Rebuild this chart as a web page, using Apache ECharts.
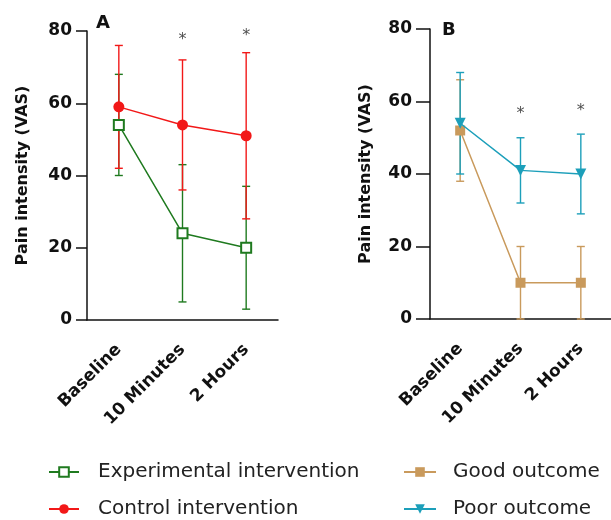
<!DOCTYPE html>
<html><head><meta charset="utf-8">
<script src="https://cdn.jsdelivr.net/npm/echarts@6/dist/echarts.min.js"></script>
<style>html,body{margin:0;padding:0;background:#fff}#c{width:611px;height:520px}</style>
</head><body><div id="c"></div>
<script>
// ---- data ----
const categories = ['Baseline', '10 Minutes', '2 Hours'];
const yMin = 0, yMax = 80, yStep = 20;

// Panel A
const expMean = [54, 24, 20];
const expLow  = [40, 5, 3];
const expHigh = [68, 43, 37];
const ctrlMean = [59, 54, 51];
const ctrlLow  = [42, 36, 28];
const ctrlHigh = [76, 72, 74];
const sigA = [null, 78.6, 79.7];

// Panel B
const goodMean = [52, 10, 10];
const goodLow  = [38, 0, 0];
const goodHigh = [66, 20, 20];
const poorMean = [54, 41, 40];
const poorLow  = [40, 32, 29];
const poorHigh = [68, 50, 51];
const sigB = [null, 57.7, 58.4];

// ---- styles ----
const GREEN = '#1f7a1f', RED = '#f21818', TAN = '#c99a5c', TEAL = '#1c9fba';
const FONT = 'DejaVu Sans';

function errSeries(id, low, high, color, ai) {
  return {
    type: 'custom', id: id, name: id, xAxisIndex: ai, yAxisIndex: ai, silent: true, z: 1,
    encode: { x: 0, y: [1, 2] },
    data: low.map((l, i) => [i, l, high[i]]),
    renderItem: function (params, api) {
      const x = api.value(0);
      const lo = api.coord([x, api.value(1)]);
      const hi = api.coord([x, api.value(2)]);
      const w = 4;
      const style = { stroke: color, lineWidth: 1.4, fill: null };
      return { type: 'group', children: [
        { type: 'line', shape: { x1: lo[0], y1: lo[1], x2: hi[0], y2: hi[1] }, style: style },
        { type: 'line', shape: { x1: lo[0] - w, y1: lo[1], x2: lo[0] + w, y2: lo[1] }, style: style },
        { type: 'line', shape: { x1: hi[0] - w, y1: hi[1], x2: hi[0] + w, y2: hi[1] }, style: style }
      ]};
    }
  };
}
function sigSeries(vals, ai) {
  return {
    type: 'scatter', xAxisIndex: ai, yAxisIndex: ai, silent: true, symbolSize: 1, z: 5,
    itemStyle: { color: 'rgba(0,0,0,0)' },
    data: vals.map((v, i) => [i, v]).filter(d => d[1] != null),
    label: { show: true, formatter: '*', position: 'inside', fontFamily: FONT, fontSize: 16, color: '#222', offset: [0, 4] }
  };
}
function xAxisDef(gi) {
  return {
    type: 'category', gridIndex: gi, data: categories, boundaryGap: true,
    axisLine: { lineStyle: { color: '#111', width: 1.5 } },
    axisTick: { alignWithLabel: true, length: 10, lineStyle: { color: '#111', width: 1.5 } },
    axisLabel: { rotate: 45, margin: 27, fontFamily: FONT, fontWeight: 'bold', fontSize: 17, color: '#111' }
  };
}
function yAxisDef(gi, tickLen, margin) {
  return {
    type: 'value', gridIndex: gi, min: yMin, max: yMax, interval: yStep,
    name: 'Pain intensity (VAS)', nameLocation: 'middle', nameGap: 56,
    nameTextStyle: { fontFamily: FONT, fontWeight: 'bold', fontSize: 16, color: '#111' },
    splitLine: { show: false },
    axisLine: { show: true, lineStyle: { color: '#111', width: 1.5 } },
    axisTick: { show: true, length: tickLen, lineStyle: { color: '#111', width: 1.5 } },
    axisLabel: { margin: margin, fontFamily: FONT, fontWeight: 'bold', fontSize: 17, color: '#111' }
  };
}

const chart = echarts.init(document.getElementById('c'), null, { renderer: 'canvas' });
chart.setOption({
  animation: false,
  backgroundColor: '#fff',
  title: [
    { text: 'A', left: 96, top: 14, padding: 0, textStyle: { fontFamily: FONT, fontWeight: 'bold', fontSize: 18, color: '#111' } },
    { text: 'B', left: 442, top: 21, padding: 0, textStyle: { fontFamily: FONT, fontWeight: 'bold', fontSize: 18, color: '#111' } }
  ],
  grid: [
    { left: 87, top: 31, width: 191, height: 289 },
    { left: 430, top: 29, width: 192, height: 290 }
  ],
  xAxis: [xAxisDef(0), xAxisDef(1)],
  yAxis: [yAxisDef(0, 11, 15), yAxisDef(1, 14, 18)],
  legend: [
    { orient: 'vertical', left: 48, top: 462, padding: 0, itemWidth: 30, itemHeight: 12, itemGap: 17,
      data: ['Experimental intervention', 'Control intervention'],
      textStyle: { fontFamily: FONT, fontSize: 20, color: '#222', padding: [0, 0, 0, 14] } },
    { orient: 'vertical', left: 403, top: 462, padding: 0, itemWidth: 32, itemHeight: 12, itemGap: 17,
      data: ['Good outcome', 'Poor outcome'],
      textStyle: { fontFamily: FONT, fontSize: 20, color: '#222', padding: [0, 0, 0, 12] } }
  ],
  series: [
    errSeries('errExp', expLow, expHigh, GREEN, 0),
    errSeries('errCtrl', ctrlLow, ctrlHigh, RED, 0),
    { type: 'line', name: 'Experimental intervention', xAxisIndex: 0, yAxisIndex: 0, data: expMean, z: 3,
      symbol: 'rect', symbolSize: 10, showAllSymbol: true,
      itemStyle: { color: '#fff', borderColor: GREEN, borderWidth: 2 },
      lineStyle: { color: GREEN, width: 1.5 } },
    { type: 'line', name: 'Control intervention', xAxisIndex: 0, yAxisIndex: 0, data: ctrlMean, z: 3,
      symbol: 'circle', symbolSize: 11,
      itemStyle: { color: RED }, lineStyle: { color: RED, width: 1.5 } },
    sigSeries(sigA, 0),
    errSeries('errGood', goodLow, goodHigh, TAN, 1),
    errSeries('errPoor', poorLow, poorHigh, TEAL, 1),
    { type: 'line', name: 'Good outcome', xAxisIndex: 1, yAxisIndex: 1, data: goodMean, z: 3,
      symbol: 'rect', symbolSize: 10,
      itemStyle: { color: TAN }, lineStyle: { color: TAN, width: 1.5 } },
    { type: 'line', name: 'Poor outcome', xAxisIndex: 1, yAxisIndex: 1, data: poorMean, z: 4,
      symbol: 'triangle', symbolSize: 11, symbolRotate: 180,
      itemStyle: { color: TEAL }, lineStyle: { color: TEAL, width: 1.5 } },
    sigSeries(sigB, 1)
  ]
});
</script>
</body></html>
